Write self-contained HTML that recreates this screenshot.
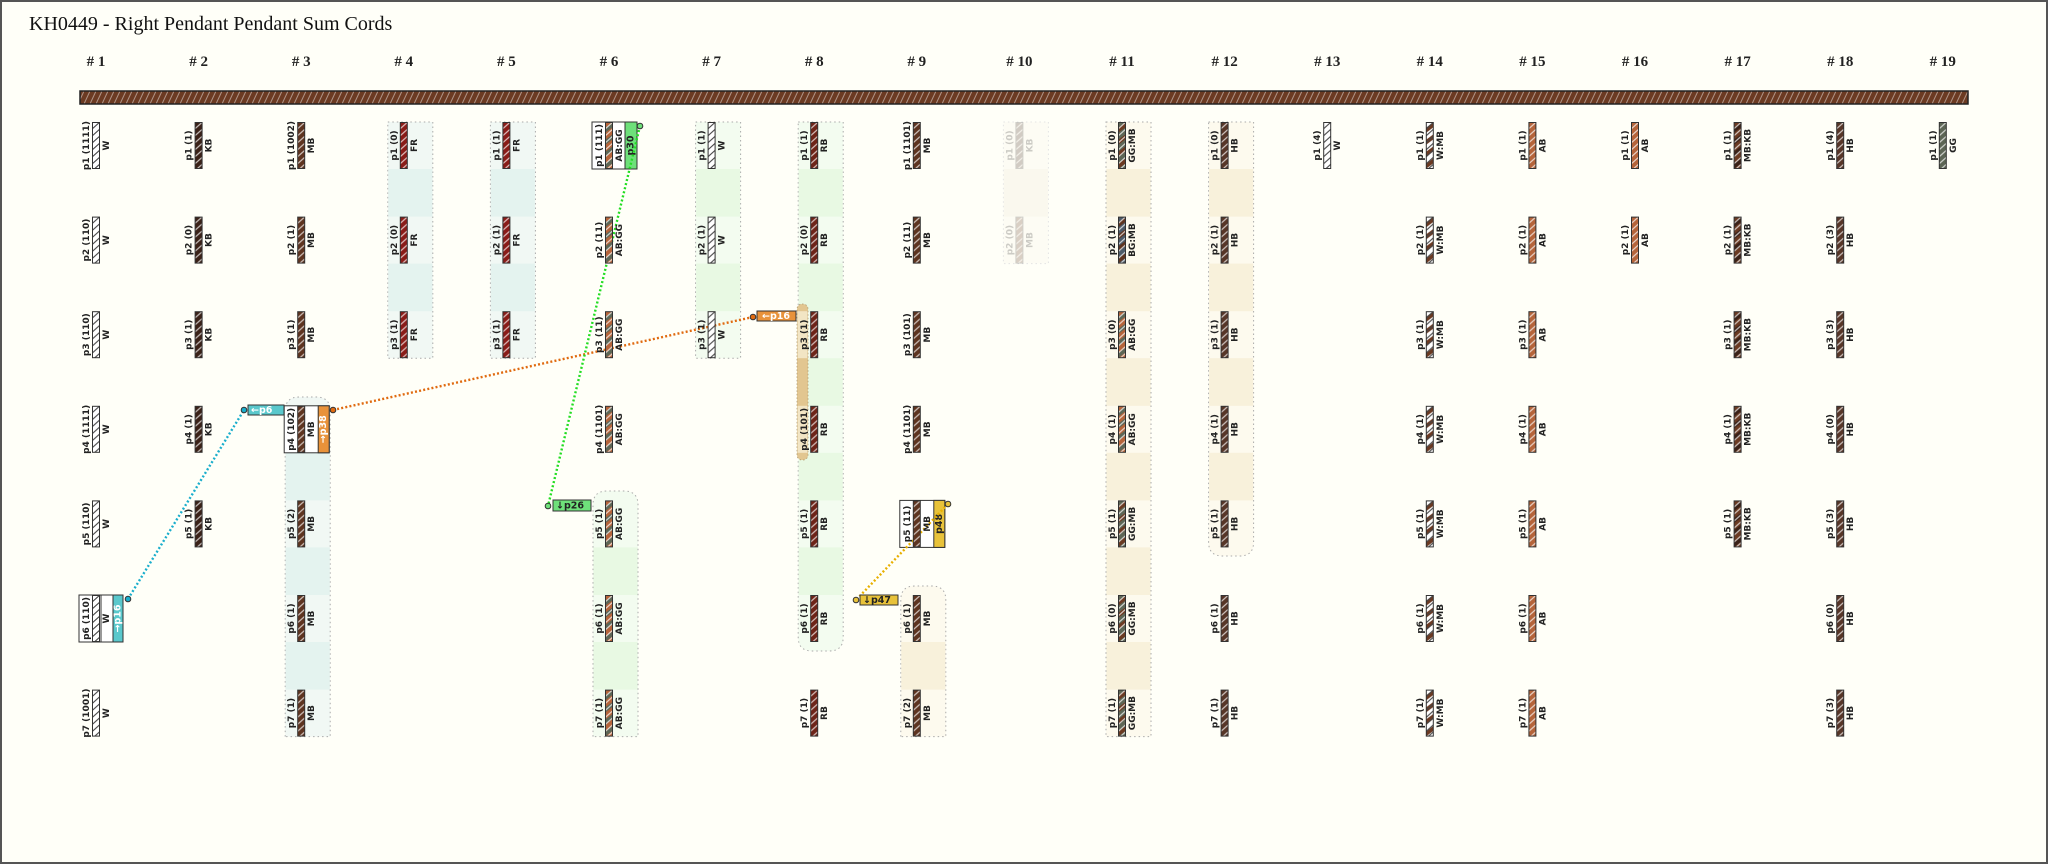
<!DOCTYPE html>
<html><head><meta charset="utf-8"><style>
html,body{margin:0;padding:0;background:#fffff8;}
svg{display:block;}
.l,.c{font-family:"DejaVu Sans","Liberation Sans",sans-serif;font-weight:bold;font-size:9px;fill:#222;text-anchor:middle;dominant-baseline:central;}
.h{font-family:"Liberation Serif",serif;font-weight:bold;font-size:15px;fill:#222;text-anchor:middle;}
.t{font-family:"DejaVu Sans","Liberation Sans",sans-serif;font-weight:bold;font-size:9.5px;dominant-baseline:central;}
.f{opacity:.22}
</style></head><body>
<svg width="2048" height="864" viewBox="0 0 2048 864" xmlns="http://www.w3.org/2000/svg">
<defs>
<pattern id="sl" patternUnits="userSpaceOnUse" width="8" height="7"><line x1="-1" y1="8" x2="9" y2="-1" stroke="rgba(255,255,255,0.7)" stroke-width="1.2"/></pattern>
<pattern id="sd" patternUnits="userSpaceOnUse" width="8" height="7"><line x1="-1" y1="8" x2="9" y2="-1" stroke="#444" stroke-width="1.1"/></pattern>
<pattern id="bar" patternUnits="userSpaceOnUse" width="6" height="13"><line x1="0" y1="13" x2="6" y2="0" stroke="rgba(255,255,255,0.45)" stroke-width="1"/></pattern>
<pattern id="pWMB" patternUnits="userSpaceOnUse" width="8" height="12"><rect width="8" height="12" fill="#fff"/><polygon points="0,6 8,0 8,5 0,11" fill="#6b3a22"/></pattern>
<pattern id="pMBKB" patternUnits="userSpaceOnUse" width="8" height="12"><rect width="8" height="12" fill="#6b3a22"/><polygon points="0,6 8,0 8,5 0,11" fill="#3b2218"/></pattern>
<pattern id="pGGMB" patternUnits="userSpaceOnUse" width="8" height="12"><rect width="8" height="12" fill="#5d6655"/><polygon points="0,6 8,0 8,5 0,11" fill="#6b3a22"/></pattern>
<pattern id="pBGMB" patternUnits="userSpaceOnUse" width="8" height="12"><rect width="8" height="12" fill="#4c5a68"/><polygon points="0,6 8,0 8,5 0,11" fill="#5e3420"/></pattern>
<pattern id="pABGG" patternUnits="userSpaceOnUse" width="8" height="12"><rect width="8" height="12" fill="#b5643a"/><polygon points="0,6 8,0 8,5 0,11" fill="#5d6655"/></pattern>
<g id="c-W"><rect x="0.5" y="0.5" width="7" height="46" fill="#fff"/><rect x="0.5" y="0.5" width="7" height="46" fill="url(#sd)"/><rect x="0.5" y="0.5" width="7" height="46" fill="none" stroke="#333"/></g>
<g id="c-KB"><rect x="0.5" y="0.5" width="7" height="46" fill="#3b2218"/><rect x="0.5" y="0.5" width="7" height="46" fill="url(#sl)"/><rect x="0.5" y="0.5" width="7" height="46" fill="none" stroke="#333"/></g>
<g id="c-MB"><rect x="0.5" y="0.5" width="7" height="46" fill="#5e3420"/><rect x="0.5" y="0.5" width="7" height="46" fill="url(#sl)"/><rect x="0.5" y="0.5" width="7" height="46" fill="none" stroke="#333"/></g>
<g id="c-RB"><rect x="0.5" y="0.5" width="7" height="46" fill="#6e2418"/><rect x="0.5" y="0.5" width="7" height="46" fill="url(#sl)"/><rect x="0.5" y="0.5" width="7" height="46" fill="none" stroke="#333"/></g>
<g id="c-FR"><rect x="0.5" y="0.5" width="7" height="46" fill="#8a1c18"/><rect x="0.5" y="0.5" width="7" height="46" fill="url(#sl)"/><rect x="0.5" y="0.5" width="7" height="46" fill="none" stroke="#333"/></g>
<g id="c-AB"><rect x="0.5" y="0.5" width="7" height="46" fill="#b5643a"/><rect x="0.5" y="0.5" width="7" height="46" fill="url(#sl)"/><rect x="0.5" y="0.5" width="7" height="46" fill="none" stroke="#333"/></g>
<g id="c-HB"><rect x="0.5" y="0.5" width="7" height="46" fill="#573628"/><rect x="0.5" y="0.5" width="7" height="46" fill="url(#sl)"/><rect x="0.5" y="0.5" width="7" height="46" fill="none" stroke="#333"/></g>
<g id="c-GG"><rect x="0.5" y="0.5" width="7" height="46" fill="#5d6655"/><rect x="0.5" y="0.5" width="7" height="46" fill="url(#sl)"/><rect x="0.5" y="0.5" width="7" height="46" fill="none" stroke="#333"/></g>
<g id="c-WMB"><rect x="0.5" y="0.5" width="7" height="46" fill="url(#pWMB)"/><rect x="0.5" y="0.5" width="7" height="46" fill="url(#sd)"/><rect x="0.5" y="0.5" width="7" height="46" fill="none" stroke="#333"/></g>
<g id="c-MBKB"><rect x="0.5" y="0.5" width="7" height="46" fill="url(#pMBKB)"/><rect x="0.5" y="0.5" width="7" height="46" fill="url(#sl)"/><rect x="0.5" y="0.5" width="7" height="46" fill="none" stroke="#333"/></g>
<g id="c-GGMB"><rect x="0.5" y="0.5" width="7" height="46" fill="url(#pGGMB)"/><rect x="0.5" y="0.5" width="7" height="46" fill="url(#sl)"/><rect x="0.5" y="0.5" width="7" height="46" fill="none" stroke="#333"/></g>
<g id="c-BGMB"><rect x="0.5" y="0.5" width="7" height="46" fill="url(#pBGMB)"/><rect x="0.5" y="0.5" width="7" height="46" fill="url(#sl)"/><rect x="0.5" y="0.5" width="7" height="46" fill="none" stroke="#333"/></g>
<g id="c-ABGG"><rect x="0.5" y="0.5" width="7" height="46" fill="url(#pABGG)"/><rect x="0.5" y="0.5" width="7" height="46" fill="url(#sl)"/><rect x="0.5" y="0.5" width="7" height="46" fill="none" stroke="#333"/></g>
</defs>

<rect x="1" y="1" width="2046" height="862" fill="#fffff8" stroke="#555" stroke-width="2"/>
<text x="29" y="30" font-family="Liberation Serif, serif" font-size="20" fill="#111">KH0449 - Right Pendant Pendant Sum Cords</text>

<g>
<text class="h" x="96" y="66"># 1</text><text class="h" x="198.6" y="66"># 2</text><text class="h" x="301.2" y="66"># 3</text><text class="h" x="403.8" y="66"># 4</text><text class="h" x="506.4" y="66"># 5</text><text class="h" x="609" y="66"># 6</text><text class="h" x="711.6" y="66"># 7</text><text class="h" x="814.2" y="66"># 8</text><text class="h" x="916.8" y="66"># 9</text><text class="h" x="1019.4" y="66"># 10</text><text class="h" x="1122" y="66"># 11</text><text class="h" x="1224.6" y="66"># 12</text><text class="h" x="1327.2" y="66"># 13</text><text class="h" x="1429.8" y="66"># 14</text><text class="h" x="1532.4" y="66"># 15</text><text class="h" x="1635" y="66"># 16</text><text class="h" x="1737.6" y="66"># 17</text><text class="h" x="1840.2" y="66"># 18</text><text class="h" x="1942.8" y="66"># 19</text>
</g>

<rect x="80" y="91" width="1888" height="13" fill="#6b3a22"/>
<rect x="80" y="91" width="1888" height="13" fill="url(#bar)"/>
<rect x="80" y="91" width="1888" height="13" fill="none" stroke="#222" stroke-width="1.5"/>

<!-- group bands -->
<g stroke="#aaa" stroke-width="1" stroke-dasharray="1.5 3">
<path d="M285.2 736.6 V411 Q285.2 397 299.2 397 H316.2 Q330.2 397 330.2 411 V736.6 Z" fill="#f1f8f4"/>
<rect x="387.8" y="122" width="45" height="236.2" fill="#f1f8f4"/>
<rect x="490.4" y="122" width="45" height="236.2" fill="#f1f8f4"/>
<path d="M593 736.6 V505 Q593 491 607 491 H624 Q638 491 638 505 V736.6 Z" fill="#f3fcf0"/>
<rect x="695.6" y="122" width="45" height="236.2" fill="#f3fcf0"/>
<path d="M798.2 122 H843.2 V637 Q843.2 651 829.2 651 H812.2 Q798.2 651 798.2 637 Z" fill="#f3fcf0"/>
<path d="M900.8 736.6 V600 Q900.8 586 914.8 586 H931.8 Q945.8 586 945.8 600 V736.6 Z" fill="#fdfaee"/>
<rect x="1003.4" y="122" width="45" height="141.6" fill="#fdfcf4" stroke="#e4e4e4"/>
<rect x="1106" y="122" width="45" height="614.6" fill="#fdfaee"/>
<path d="M1208.6 122 H1253.6 V542 Q1253.6 556 1239.6 556 H1222.6 Q1208.6 556 1208.6 542 Z" fill="#fdfaee"/>
</g>
<g>
<g fill="#e4f3ef">
<rect x="285.7" y="452.8" width="44" height="47.6"/><rect x="285.7" y="547.4" width="44" height="47.6"/><rect x="285.7" y="642" width="44" height="47.6"/>
<rect x="388.3" y="169" width="44" height="47.6"/><rect x="388.3" y="263.6" width="44" height="47.6"/>
<rect x="490.9" y="169" width="44" height="47.6"/><rect x="490.9" y="263.6" width="44" height="47.6"/>
</g>
<g fill="#e8f9e3">
<rect x="593.5" y="547.4" width="44" height="47.6"/><rect x="593.5" y="642" width="44" height="47.6"/>
<rect x="696.1" y="169" width="44" height="47.6"/><rect x="696.1" y="263.6" width="44" height="47.6"/>
<rect x="798.7" y="169" width="44" height="47.6"/><rect x="798.7" y="263.6" width="44" height="47.6"/><rect x="798.7" y="358.2" width="44" height="47.6"/><rect x="798.7" y="452.8" width="44" height="47.6"/><rect x="798.7" y="547.4" width="44" height="47.6"/>
</g>
<g fill="#f8f1db">
<rect x="901.3" y="642" width="44" height="47.6"/>
<rect x="1106.5" y="169" width="44" height="47.6"/><rect x="1106.5" y="263.6" width="44" height="47.6"/><rect x="1106.5" y="358.2" width="44" height="47.6"/><rect x="1106.5" y="452.8" width="44" height="47.6"/><rect x="1106.5" y="547.4" width="44" height="47.6"/><rect x="1106.5" y="642" width="44" height="47.6"/>
<rect x="1209.1" y="169" width="44" height="47.6"/><rect x="1209.1" y="263.6" width="44" height="47.6"/><rect x="1209.1" y="358.2" width="44" height="47.6"/><rect x="1209.1" y="452.8" width="44" height="47.6"/>
</g>
<rect x="1003.9" y="169" width="44" height="47.6" fill="#faf8ee"/>
</g>

<!-- tan pill #8 -->
<rect x="797" y="304" width="11" height="156" rx="5" fill="#e2c690" stroke="#b09a70" stroke-width="0.8" stroke-dasharray="1.5 2"/>
<rect x="797.5" y="311.2" width="10" height="47" fill="#f2e5c4"/>
<rect x="797.5" y="405.8" width="10" height="47" fill="#f2e5c4"/>

<!-- boxes (backgrounds) -->
<g stroke="#333" stroke-width="1">
<rect x="79" y="595" width="44" height="47" fill="#fff"/><rect x="113" y="595" width="10" height="47" fill="#5ac8cc"/><line x1="101" y1="595" x2="101" y2="642"/>
<rect x="284.2" y="405.8" width="45" height="47" fill="#fff"/><rect x="318.2" y="405.8" width="11" height="47" fill="#e8923a"/>
<rect x="592" y="122" width="45" height="47" fill="#fff"/><rect x="625" y="122" width="12" height="47" fill="#6ee07a"/>
<rect x="899.8" y="500.4" width="45" height="47" fill="#fff"/><rect x="933.8" y="500.4" width="11" height="47" fill="#e8c23a"/>
</g>
<text class="t" fill="#fff" transform="translate(118,618.5) rotate(-90)" text-anchor="middle">→p16</text>
<text class="t" fill="#fff" transform="translate(323.7,429.3) rotate(-90)" text-anchor="middle">→p38</text>
<text class="t" fill="#222" transform="translate(631,145.5) rotate(-90)" text-anchor="middle">p30</text>
<text class="t" fill="#222" transform="translate(939.3,523.9) rotate(-90)" text-anchor="middle">p48</text>

<!-- connectors -->
<g fill="none" stroke-width="2.4" stroke-dasharray="2 2.2">
<line x1="128" y1="599" x2="244" y2="410" stroke="#1aaecc"/>
<line x1="333" y1="410" x2="753" y2="317" stroke="#e06a10"/>
<line x1="640" y1="126" x2="548" y2="506" stroke="#22dd22"/>
<line x1="948" y1="504" x2="856" y2="600" stroke="#e8b000"/>
</g>
<!-- tabs -->
<g stroke="#333" stroke-width="1">
<rect x="248" y="405" width="36" height="10" fill="#5ac8cc"/>
<rect x="757" y="311" width="39" height="10" fill="#e8923a"/>
<rect x="553" y="500" width="38" height="11" fill="#6ee07a"/>
<rect x="860" y="595" width="38" height="10" fill="#e8c23a"/>
<circle cx="128" cy="599" r="2.8" fill="#1aaecc"/>
<circle cx="244" cy="410" r="2.8" fill="#1aaecc"/>
<circle cx="333" cy="410" r="2.8" fill="#e06a10"/>
<circle cx="753" cy="317" r="2.8" fill="#e06a10"/>
<circle cx="640" cy="126" r="2.8" fill="#6ee07a"/>
<circle cx="548" cy="506" r="2.8" fill="#6ee07a"/>
<circle cx="948" cy="504" r="2.8" fill="#e8c23a"/>
<circle cx="856" cy="600" r="2.8" fill="#e8c23a"/>
</g>
<text class="t" fill="#fff" x="251" y="410.5">←p6</text>
<text class="t" fill="#fff" x="762" y="316.5">←p16</text>
<text class="t" fill="#222" x="556" y="506">↓p26</text>
<text class="t" fill="#222" x="863" y="600.5">↓p47</text>

<!-- #1 -->
<g transform="translate(92,122)"><use href="#c-W"/><text class="l" transform="translate(-5,23.5) rotate(-90)">p1 (1111)</text><text class="c" transform="translate(15,23.5) rotate(-90)">W</text></g>
<g transform="translate(92,216.6)"><use href="#c-W"/><text class="l" transform="translate(-5,23.5) rotate(-90)">p2 (110)</text><text class="c" transform="translate(15,23.5) rotate(-90)">W</text></g>
<g transform="translate(92,311.2)"><use href="#c-W"/><text class="l" transform="translate(-5,23.5) rotate(-90)">p3 (110)</text><text class="c" transform="translate(15,23.5) rotate(-90)">W</text></g>
<g transform="translate(92,405.8)"><use href="#c-W"/><text class="l" transform="translate(-5,23.5) rotate(-90)">p4 (1111)</text><text class="c" transform="translate(15,23.5) rotate(-90)">W</text></g>
<g transform="translate(92,500.4)"><use href="#c-W"/><text class="l" transform="translate(-5,23.5) rotate(-90)">p5 (110)</text><text class="c" transform="translate(15,23.5) rotate(-90)">W</text></g>
<g transform="translate(92,595)"><use href="#c-W"/><text class="l" transform="translate(-5,23.5) rotate(-90)">p6 (110)</text><text class="c" transform="translate(15,23.5) rotate(-90)">W</text></g>
<g transform="translate(92,689.6)"><use href="#c-W"/><text class="l" transform="translate(-5,23.5) rotate(-90)">p7 (1001)</text><text class="c" transform="translate(15,23.5) rotate(-90)">W</text></g>
<!-- #2 -->
<g transform="translate(194.6,122)"><use href="#c-KB"/><text class="l" transform="translate(-5,23.5) rotate(-90)">p1 (1)</text><text class="c" transform="translate(15,23.5) rotate(-90)">KB</text></g>
<g transform="translate(194.6,216.6)"><use href="#c-KB"/><text class="l" transform="translate(-5,23.5) rotate(-90)">p2 (0)</text><text class="c" transform="translate(15,23.5) rotate(-90)">KB</text></g>
<g transform="translate(194.6,311.2)"><use href="#c-KB"/><text class="l" transform="translate(-5,23.5) rotate(-90)">p3 (1)</text><text class="c" transform="translate(15,23.5) rotate(-90)">KB</text></g>
<g transform="translate(194.6,405.8)"><use href="#c-KB"/><text class="l" transform="translate(-5,23.5) rotate(-90)">p4 (1)</text><text class="c" transform="translate(15,23.5) rotate(-90)">KB</text></g>
<g transform="translate(194.6,500.4)"><use href="#c-KB"/><text class="l" transform="translate(-5,23.5) rotate(-90)">p5 (1)</text><text class="c" transform="translate(15,23.5) rotate(-90)">KB</text></g>
<!-- #3 -->
<g transform="translate(297.2,122)"><use href="#c-MB"/><text class="l" transform="translate(-5,23.5) rotate(-90)">p1 (1002)</text><text class="c" transform="translate(15,23.5) rotate(-90)">MB</text></g>
<g transform="translate(297.2,216.6)"><use href="#c-MB"/><text class="l" transform="translate(-5,23.5) rotate(-90)">p2 (1)</text><text class="c" transform="translate(15,23.5) rotate(-90)">MB</text></g>
<g transform="translate(297.2,311.2)"><use href="#c-MB"/><text class="l" transform="translate(-5,23.5) rotate(-90)">p3 (1)</text><text class="c" transform="translate(15,23.5) rotate(-90)">MB</text></g>
<g transform="translate(297.2,405.8)"><use href="#c-MB"/><text class="l" transform="translate(-5,23.5) rotate(-90)">p4 (102)</text><text class="c" transform="translate(15,23.5) rotate(-90)">MB</text></g>
<g transform="translate(297.2,500.4)"><use href="#c-MB"/><text class="l" transform="translate(-5,23.5) rotate(-90)">p5 (2)</text><text class="c" transform="translate(15,23.5) rotate(-90)">MB</text></g>
<g transform="translate(297.2,595)"><use href="#c-MB"/><text class="l" transform="translate(-5,23.5) rotate(-90)">p6 (1)</text><text class="c" transform="translate(15,23.5) rotate(-90)">MB</text></g>
<g transform="translate(297.2,689.6)"><use href="#c-MB"/><text class="l" transform="translate(-5,23.5) rotate(-90)">p7 (1)</text><text class="c" transform="translate(15,23.5) rotate(-90)">MB</text></g>
<!-- #4 -->
<g transform="translate(399.8,122)"><use href="#c-FR"/><text class="l" transform="translate(-5,23.5) rotate(-90)">p1 (0)</text><text class="c" transform="translate(15,23.5) rotate(-90)">FR</text></g>
<g transform="translate(399.8,216.6)"><use href="#c-FR"/><text class="l" transform="translate(-5,23.5) rotate(-90)">p2 (0)</text><text class="c" transform="translate(15,23.5) rotate(-90)">FR</text></g>
<g transform="translate(399.8,311.2)"><use href="#c-FR"/><text class="l" transform="translate(-5,23.5) rotate(-90)">p3 (1)</text><text class="c" transform="translate(15,23.5) rotate(-90)">FR</text></g>
<!-- #5 -->
<g transform="translate(502.4,122)"><use href="#c-FR"/><text class="l" transform="translate(-5,23.5) rotate(-90)">p1 (1)</text><text class="c" transform="translate(15,23.5) rotate(-90)">FR</text></g>
<g transform="translate(502.4,216.6)"><use href="#c-FR"/><text class="l" transform="translate(-5,23.5) rotate(-90)">p2 (1)</text><text class="c" transform="translate(15,23.5) rotate(-90)">FR</text></g>
<g transform="translate(502.4,311.2)"><use href="#c-FR"/><text class="l" transform="translate(-5,23.5) rotate(-90)">p3 (1)</text><text class="c" transform="translate(15,23.5) rotate(-90)">FR</text></g>
<!-- #6 -->
<g transform="translate(605,122)"><use href="#c-ABGG"/><text class="l" transform="translate(-5,23.5) rotate(-90)">p1 (111)</text><text class="c" transform="translate(15,23.5) rotate(-90)">AB:GG</text></g>
<g transform="translate(605,216.6)"><use href="#c-ABGG"/><text class="l" transform="translate(-5,23.5) rotate(-90)">p2 (11)</text><text class="c" transform="translate(15,23.5) rotate(-90)">AB:GG</text></g>
<g transform="translate(605,311.2)"><use href="#c-ABGG"/><text class="l" transform="translate(-5,23.5) rotate(-90)">p3 (11)</text><text class="c" transform="translate(15,23.5) rotate(-90)">AB:GG</text></g>
<g transform="translate(605,405.8)"><use href="#c-ABGG"/><text class="l" transform="translate(-5,23.5) rotate(-90)">p4 (1101)</text><text class="c" transform="translate(15,23.5) rotate(-90)">AB:GG</text></g>
<g transform="translate(605,500.4)"><use href="#c-ABGG"/><text class="l" transform="translate(-5,23.5) rotate(-90)">p5 (1)</text><text class="c" transform="translate(15,23.5) rotate(-90)">AB:GG</text></g>
<g transform="translate(605,595)"><use href="#c-ABGG"/><text class="l" transform="translate(-5,23.5) rotate(-90)">p6 (1)</text><text class="c" transform="translate(15,23.5) rotate(-90)">AB:GG</text></g>
<g transform="translate(605,689.6)"><use href="#c-ABGG"/><text class="l" transform="translate(-5,23.5) rotate(-90)">p7 (1)</text><text class="c" transform="translate(15,23.5) rotate(-90)">AB:GG</text></g>
<!-- #7 -->
<g transform="translate(707.6,122)"><use href="#c-W"/><text class="l" transform="translate(-5,23.5) rotate(-90)">p1 (1)</text><text class="c" transform="translate(15,23.5) rotate(-90)">W</text></g>
<g transform="translate(707.6,216.6)"><use href="#c-W"/><text class="l" transform="translate(-5,23.5) rotate(-90)">p2 (1)</text><text class="c" transform="translate(15,23.5) rotate(-90)">W</text></g>
<g transform="translate(707.6,311.2)"><use href="#c-W"/><text class="l" transform="translate(-5,23.5) rotate(-90)">p3 (1)</text><text class="c" transform="translate(15,23.5) rotate(-90)">W</text></g>
<!-- #8 -->
<g transform="translate(810.2,122)"><use href="#c-RB"/><text class="l" transform="translate(-5,23.5) rotate(-90)">p1 (1)</text><text class="c" transform="translate(15,23.5) rotate(-90)">RB</text></g>
<g transform="translate(810.2,216.6)"><use href="#c-RB"/><text class="l" transform="translate(-5,23.5) rotate(-90)">p2 (0)</text><text class="c" transform="translate(15,23.5) rotate(-90)">RB</text></g>
<g transform="translate(810.2,311.2)"><use href="#c-RB"/><text class="l" transform="translate(-5,23.5) rotate(-90)">p3 (1)</text><text class="c" transform="translate(15,23.5) rotate(-90)">RB</text></g>
<g transform="translate(810.2,405.8)"><use href="#c-RB"/><text class="l" transform="translate(-5,23.5) rotate(-90)">p4 (101)</text><text class="c" transform="translate(15,23.5) rotate(-90)">RB</text></g>
<g transform="translate(810.2,500.4)"><use href="#c-RB"/><text class="l" transform="translate(-5,23.5) rotate(-90)">p5 (1)</text><text class="c" transform="translate(15,23.5) rotate(-90)">RB</text></g>
<g transform="translate(810.2,595)"><use href="#c-RB"/><text class="l" transform="translate(-5,23.5) rotate(-90)">p6 (1)</text><text class="c" transform="translate(15,23.5) rotate(-90)">RB</text></g>
<g transform="translate(810.2,689.6)"><use href="#c-RB"/><text class="l" transform="translate(-5,23.5) rotate(-90)">p7 (1)</text><text class="c" transform="translate(15,23.5) rotate(-90)">RB</text></g>
<!-- #9 -->
<g transform="translate(912.8,122)"><use href="#c-MB"/><text class="l" transform="translate(-5,23.5) rotate(-90)">p1 (1101)</text><text class="c" transform="translate(15,23.5) rotate(-90)">MB</text></g>
<g transform="translate(912.8,216.6)"><use href="#c-MB"/><text class="l" transform="translate(-5,23.5) rotate(-90)">p2 (11)</text><text class="c" transform="translate(15,23.5) rotate(-90)">MB</text></g>
<g transform="translate(912.8,311.2)"><use href="#c-MB"/><text class="l" transform="translate(-5,23.5) rotate(-90)">p3 (101)</text><text class="c" transform="translate(15,23.5) rotate(-90)">MB</text></g>
<g transform="translate(912.8,405.8)"><use href="#c-MB"/><text class="l" transform="translate(-5,23.5) rotate(-90)">p4 (1101)</text><text class="c" transform="translate(15,23.5) rotate(-90)">MB</text></g>
<g transform="translate(912.8,500.4)"><use href="#c-MB"/><text class="l" transform="translate(-5,23.5) rotate(-90)">p5 (11)</text><text class="c" transform="translate(15,23.5) rotate(-90)">MB</text></g>
<g transform="translate(912.8,595)"><use href="#c-MB"/><text class="l" transform="translate(-5,23.5) rotate(-90)">p6 (1)</text><text class="c" transform="translate(15,23.5) rotate(-90)">MB</text></g>
<g transform="translate(912.8,689.6)"><use href="#c-MB"/><text class="l" transform="translate(-5,23.5) rotate(-90)">p7 (2)</text><text class="c" transform="translate(15,23.5) rotate(-90)">MB</text></g>
<!-- #10 faded -->
<g class="f" transform="translate(1015.4,122)"><use href="#c-KB"/><text class="l" transform="translate(-5,23.5) rotate(-90)">p1 (0)</text><text class="c" transform="translate(15,23.5) rotate(-90)">KB</text></g>
<g class="f" transform="translate(1015.4,216.6)"><use href="#c-MB"/><text class="l" transform="translate(-5,23.5) rotate(-90)">p2 (0)</text><text class="c" transform="translate(15,23.5) rotate(-90)">MB</text></g>
<!-- #11 -->
<g transform="translate(1118,122)"><use href="#c-GGMB"/><text class="l" transform="translate(-5,23.5) rotate(-90)">p1 (0)</text><text class="c" transform="translate(15,23.5) rotate(-90)">GG:MB</text></g>
<g transform="translate(1118,216.6)"><use href="#c-BGMB"/><text class="l" transform="translate(-5,23.5) rotate(-90)">p2 (1)</text><text class="c" transform="translate(15,23.5) rotate(-90)">BG:MB</text></g>
<g transform="translate(1118,311.2)"><use href="#c-ABGG"/><text class="l" transform="translate(-5,23.5) rotate(-90)">p3 (0)</text><text class="c" transform="translate(15,23.5) rotate(-90)">AB:GG</text></g>
<g transform="translate(1118,405.8)"><use href="#c-ABGG"/><text class="l" transform="translate(-5,23.5) rotate(-90)">p4 (1)</text><text class="c" transform="translate(15,23.5) rotate(-90)">AB:GG</text></g>
<g transform="translate(1118,500.4)"><use href="#c-GGMB"/><text class="l" transform="translate(-5,23.5) rotate(-90)">p5 (1)</text><text class="c" transform="translate(15,23.5) rotate(-90)">GG:MB</text></g>
<g transform="translate(1118,595)"><use href="#c-GGMB"/><text class="l" transform="translate(-5,23.5) rotate(-90)">p6 (0)</text><text class="c" transform="translate(15,23.5) rotate(-90)">GG:MB</text></g>
<g transform="translate(1118,689.6)"><use href="#c-GGMB"/><text class="l" transform="translate(-5,23.5) rotate(-90)">p7 (1)</text><text class="c" transform="translate(15,23.5) rotate(-90)">GG:MB</text></g>
<!-- #12 -->
<g transform="translate(1220.6,122)"><use href="#c-HB"/><text class="l" transform="translate(-5,23.5) rotate(-90)">p1 (0)</text><text class="c" transform="translate(15,23.5) rotate(-90)">HB</text></g>
<g transform="translate(1220.6,216.6)"><use href="#c-HB"/><text class="l" transform="translate(-5,23.5) rotate(-90)">p2 (1)</text><text class="c" transform="translate(15,23.5) rotate(-90)">HB</text></g>
<g transform="translate(1220.6,311.2)"><use href="#c-HB"/><text class="l" transform="translate(-5,23.5) rotate(-90)">p3 (1)</text><text class="c" transform="translate(15,23.5) rotate(-90)">HB</text></g>
<g transform="translate(1220.6,405.8)"><use href="#c-HB"/><text class="l" transform="translate(-5,23.5) rotate(-90)">p4 (1)</text><text class="c" transform="translate(15,23.5) rotate(-90)">HB</text></g>
<g transform="translate(1220.6,500.4)"><use href="#c-HB"/><text class="l" transform="translate(-5,23.5) rotate(-90)">p5 (1)</text><text class="c" transform="translate(15,23.5) rotate(-90)">HB</text></g>
<g transform="translate(1220.6,595)"><use href="#c-HB"/><text class="l" transform="translate(-5,23.5) rotate(-90)">p6 (1)</text><text class="c" transform="translate(15,23.5) rotate(-90)">HB</text></g>
<g transform="translate(1220.6,689.6)"><use href="#c-HB"/><text class="l" transform="translate(-5,23.5) rotate(-90)">p7 (1)</text><text class="c" transform="translate(15,23.5) rotate(-90)">HB</text></g>
<!-- #13 -->
<g transform="translate(1323.2,122)"><use href="#c-W"/><text class="l" transform="translate(-5,23.5) rotate(-90)">p1 (4)</text><text class="c" transform="translate(15,23.5) rotate(-90)">W</text></g>
<!-- #14 -->
<g transform="translate(1425.8,122)"><use href="#c-WMB"/><text class="l" transform="translate(-5,23.5) rotate(-90)">p1 (1)</text><text class="c" transform="translate(15,23.5) rotate(-90)">W:MB</text></g>
<g transform="translate(1425.8,216.6)"><use href="#c-WMB"/><text class="l" transform="translate(-5,23.5) rotate(-90)">p2 (1)</text><text class="c" transform="translate(15,23.5) rotate(-90)">W:MB</text></g>
<g transform="translate(1425.8,311.2)"><use href="#c-WMB"/><text class="l" transform="translate(-5,23.5) rotate(-90)">p3 (1)</text><text class="c" transform="translate(15,23.5) rotate(-90)">W:MB</text></g>
<g transform="translate(1425.8,405.8)"><use href="#c-WMB"/><text class="l" transform="translate(-5,23.5) rotate(-90)">p4 (1)</text><text class="c" transform="translate(15,23.5) rotate(-90)">W:MB</text></g>
<g transform="translate(1425.8,500.4)"><use href="#c-WMB"/><text class="l" transform="translate(-5,23.5) rotate(-90)">p5 (1)</text><text class="c" transform="translate(15,23.5) rotate(-90)">W:MB</text></g>
<g transform="translate(1425.8,595)"><use href="#c-WMB"/><text class="l" transform="translate(-5,23.5) rotate(-90)">p6 (1)</text><text class="c" transform="translate(15,23.5) rotate(-90)">W:MB</text></g>
<g transform="translate(1425.8,689.6)"><use href="#c-WMB"/><text class="l" transform="translate(-5,23.5) rotate(-90)">p7 (1)</text><text class="c" transform="translate(15,23.5) rotate(-90)">W:MB</text></g>
<!-- #15 -->
<g transform="translate(1528.4,122)"><use href="#c-AB"/><text class="l" transform="translate(-5,23.5) rotate(-90)">p1 (1)</text><text class="c" transform="translate(15,23.5) rotate(-90)">AB</text></g>
<g transform="translate(1528.4,216.6)"><use href="#c-AB"/><text class="l" transform="translate(-5,23.5) rotate(-90)">p2 (1)</text><text class="c" transform="translate(15,23.5) rotate(-90)">AB</text></g>
<g transform="translate(1528.4,311.2)"><use href="#c-AB"/><text class="l" transform="translate(-5,23.5) rotate(-90)">p3 (1)</text><text class="c" transform="translate(15,23.5) rotate(-90)">AB</text></g>
<g transform="translate(1528.4,405.8)"><use href="#c-AB"/><text class="l" transform="translate(-5,23.5) rotate(-90)">p4 (1)</text><text class="c" transform="translate(15,23.5) rotate(-90)">AB</text></g>
<g transform="translate(1528.4,500.4)"><use href="#c-AB"/><text class="l" transform="translate(-5,23.5) rotate(-90)">p5 (1)</text><text class="c" transform="translate(15,23.5) rotate(-90)">AB</text></g>
<g transform="translate(1528.4,595)"><use href="#c-AB"/><text class="l" transform="translate(-5,23.5) rotate(-90)">p6 (1)</text><text class="c" transform="translate(15,23.5) rotate(-90)">AB</text></g>
<g transform="translate(1528.4,689.6)"><use href="#c-AB"/><text class="l" transform="translate(-5,23.5) rotate(-90)">p7 (1)</text><text class="c" transform="translate(15,23.5) rotate(-90)">AB</text></g>
<!-- #16 -->
<g transform="translate(1631,122)"><use href="#c-AB"/><text class="l" transform="translate(-5,23.5) rotate(-90)">p1 (1)</text><text class="c" transform="translate(15,23.5) rotate(-90)">AB</text></g>
<g transform="translate(1631,216.6)"><use href="#c-AB"/><text class="l" transform="translate(-5,23.5) rotate(-90)">p2 (1)</text><text class="c" transform="translate(15,23.5) rotate(-90)">AB</text></g>
<!-- #17 -->
<g transform="translate(1733.6,122)"><use href="#c-MBKB"/><text class="l" transform="translate(-5,23.5) rotate(-90)">p1 (1)</text><text class="c" transform="translate(15,23.5) rotate(-90)">MB:KB</text></g>
<g transform="translate(1733.6,216.6)"><use href="#c-MBKB"/><text class="l" transform="translate(-5,23.5) rotate(-90)">p2 (1)</text><text class="c" transform="translate(15,23.5) rotate(-90)">MB:KB</text></g>
<g transform="translate(1733.6,311.2)"><use href="#c-MBKB"/><text class="l" transform="translate(-5,23.5) rotate(-90)">p3 (1)</text><text class="c" transform="translate(15,23.5) rotate(-90)">MB:KB</text></g>
<g transform="translate(1733.6,405.8)"><use href="#c-MBKB"/><text class="l" transform="translate(-5,23.5) rotate(-90)">p4 (1)</text><text class="c" transform="translate(15,23.5) rotate(-90)">MB:KB</text></g>
<g transform="translate(1733.6,500.4)"><use href="#c-MBKB"/><text class="l" transform="translate(-5,23.5) rotate(-90)">p5 (1)</text><text class="c" transform="translate(15,23.5) rotate(-90)">MB:KB</text></g>
<!-- #18 -->
<g transform="translate(1836.2,122)"><use href="#c-HB"/><text class="l" transform="translate(-5,23.5) rotate(-90)">p1 (4)</text><text class="c" transform="translate(15,23.5) rotate(-90)">HB</text></g>
<g transform="translate(1836.2,216.6)"><use href="#c-HB"/><text class="l" transform="translate(-5,23.5) rotate(-90)">p2 (3)</text><text class="c" transform="translate(15,23.5) rotate(-90)">HB</text></g>
<g transform="translate(1836.2,311.2)"><use href="#c-HB"/><text class="l" transform="translate(-5,23.5) rotate(-90)">p3 (3)</text><text class="c" transform="translate(15,23.5) rotate(-90)">HB</text></g>
<g transform="translate(1836.2,405.8)"><use href="#c-HB"/><text class="l" transform="translate(-5,23.5) rotate(-90)">p4 (0)</text><text class="c" transform="translate(15,23.5) rotate(-90)">HB</text></g>
<g transform="translate(1836.2,500.4)"><use href="#c-HB"/><text class="l" transform="translate(-5,23.5) rotate(-90)">p5 (3)</text><text class="c" transform="translate(15,23.5) rotate(-90)">HB</text></g>
<g transform="translate(1836.2,595)"><use href="#c-HB"/><text class="l" transform="translate(-5,23.5) rotate(-90)">p6 (0)</text><text class="c" transform="translate(15,23.5) rotate(-90)">HB</text></g>
<g transform="translate(1836.2,689.6)"><use href="#c-HB"/><text class="l" transform="translate(-5,23.5) rotate(-90)">p7 (3)</text><text class="c" transform="translate(15,23.5) rotate(-90)">HB</text></g>
<!-- #19 -->
<g transform="translate(1938.8,122)"><use href="#c-GG"/><text class="l" transform="translate(-5,23.5) rotate(-90)">p1 (1)</text><text class="c" transform="translate(15,23.5) rotate(-90)">GG</text></g>
</svg>
</body></html>
